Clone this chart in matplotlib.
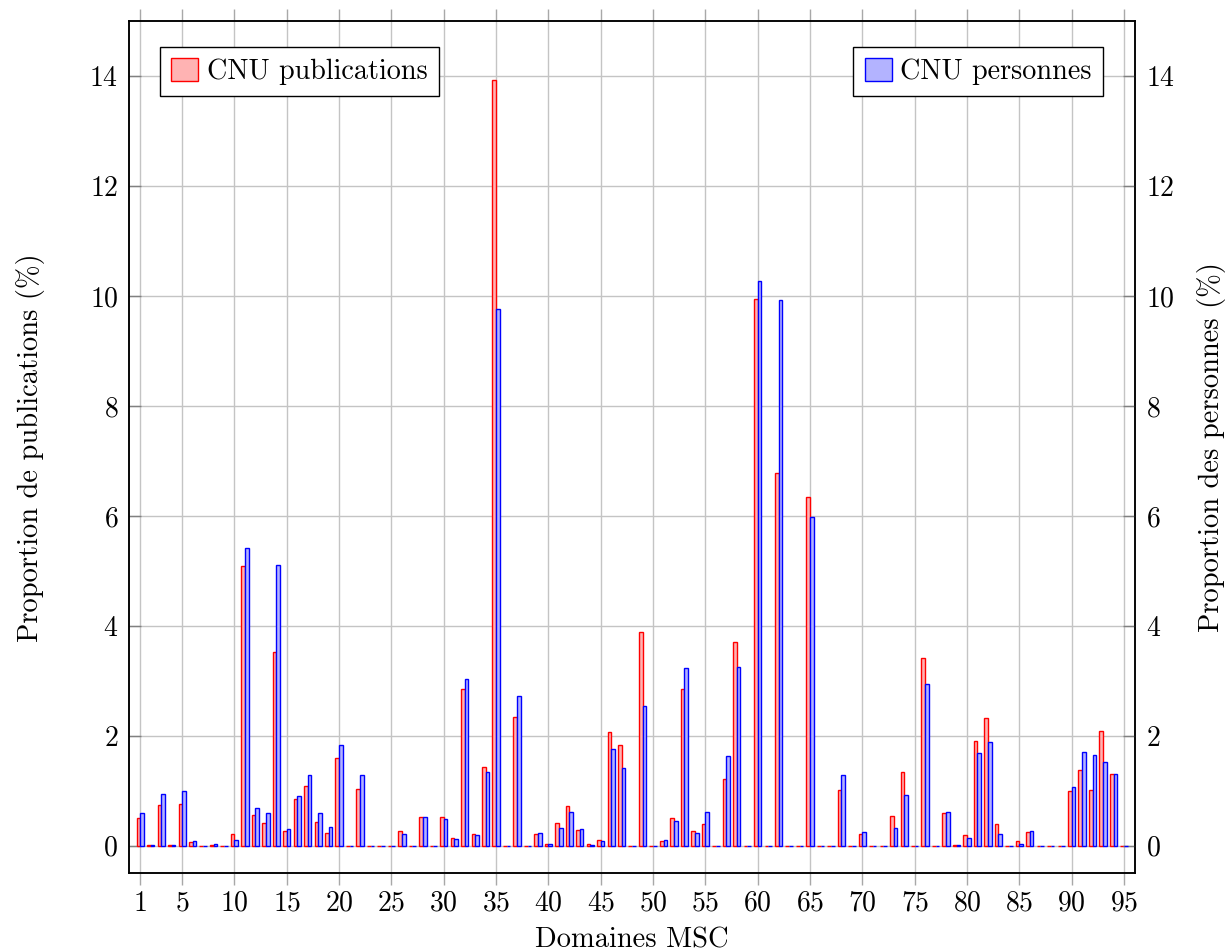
import matplotlib
matplotlib.use("Agg")
import matplotlib.pyplot as plt
from matplotlib.patches import Patch
import numpy as np

plt.rcParams['font.family'] = ['cmr10', 'DejaVu Serif']
plt.rcParams['mathtext.fontset'] = 'cm'
plt.rcParams['axes.formatter.use_mathtext'] = True

# Domaines MSC 1..95
domaines = list(range(1, 96))

publications = [
    0.50, 0.02, 0.75, 0.02, 0.76, 0.06, 0.00, 0.02, 0.00, 0.21,   # 1-10
    5.09, 0.56, 0.42, 3.52, 0.26, 0.85, 1.09, 0.43, 0.23, 1.60,   # 11-20
    0.00, 1.04, 0.00, 0.00, 0.00, 0.26, 0.00, 0.53, 0.00, 0.52,   # 21-30
    0.15, 2.85, 0.21, 1.44, 13.93, 0.00, 2.35, 0.00, 0.21, 0.03,  # 31-40
    0.41, 0.73, 0.28, 0.04, 0.10, 2.07, 1.83, 0.00, 3.89, 0.00,   # 41-50
    0.08, 0.50, 2.86, 0.27, 0.39, 0.00, 1.21, 3.71, 0.00, 9.95,   # 51-60
    0.00, 6.78, 0.00, 0.00, 6.35, 0.00, 0.00, 1.01, 0.00, 0.21,   # 61-70
    0.00, 0.00, 0.54, 1.35, 0.00, 3.42, 0.00, 0.60, 0.01, 0.20,   # 71-80
    1.91, 2.33, 0.40, 0.00, 0.08, 0.25, 0.00, 0.00, 0.00, 0.99,   # 81-90
    1.37, 1.02, 2.08, 1.30, 0.00,                                 # 91-95
]

personnes = [
    0.60, 0.02, 0.95, 0.02, 0.99, 0.08, 0.00, 0.04, 0.00, 0.10,   # 1-10
    5.42, 0.68, 0.59, 5.11, 0.30, 0.90, 1.28, 0.59, 0.35, 1.84,   # 11-20
    0.00, 1.28, 0.00, 0.00, 0.00, 0.21, 0.00, 0.52, 0.00, 0.48,   # 21-30
    0.13, 3.03, 0.19, 1.34, 9.76, 0.00, 2.72, 0.00, 0.24, 0.03,   # 31-40
    0.33, 0.62, 0.30, 0.02, 0.08, 1.77, 1.41, 0.00, 2.54, 0.00,   # 41-50
    0.10, 0.45, 3.24, 0.24, 0.61, 0.00, 1.64, 3.26, 0.00, 10.28,  # 51-60
    0.00, 9.93, 0.00, 0.00, 5.98, 0.00, 0.00, 1.28, 0.00, 0.25,   # 61-70
    0.00, 0.00, 0.33, 0.93, 0.00, 2.95, 0.00, 0.62, 0.01, 0.15,   # 71-80
    1.68, 1.89, 0.22, 0.00, 0.04, 0.26, 0.00, 0.00, 0.00, 1.07,   # 81-90
    1.70, 1.66, 1.53, 1.30, 0.00,                                 # 91-95
]

xticks = [1] + list(range(5, 96, 5))
yticks = list(range(0, 15, 2))

fig = plt.figure(figsize=(12.27, 9.52), dpi=100)
ax = fig.add_axes([0.1054, 0.0827, 0.925 - 0.1054, 0.9776 - 0.0827])
ax2 = ax.twinx()

x = np.array(domaines, dtype=float)
bw = 0.35
ax.bar(x - bw / 2, publications, width=bw, color='#ffb3b3', edgecolor='red',
       linewidth=1.0, zorder=3)
ax2.bar(x + bw / 2, personnes, width=bw, color='#b3b3ff', edgecolor='blue',
        linewidth=1.0, zorder=3)

for a in (ax, ax2):
    a.set_xlim(-0.05, 96.05)
    a.set_ylim(-0.5, 15.0)
    a.set_yticks(yticks)

ax.set_xticks(xticks)
ax.grid(True, color='#c4c4c4', linewidth=1.0, zorder=0)
ax.set_axisbelow(True)

TS = 20
ax.tick_params(axis='x', direction='out', top=True, length=8.5, width=1.0,
               color='#a8a8a8', labelsize=TS, pad=4)
ax.tick_params(axis='y', direction='in', length=8.5, width=1.0,
               color='#808080', labelsize=TS, pad=8)
ax2.tick_params(axis='y', direction='in', length=8.5, width=1.0,
                color='#808080', labelsize=TS, pad=8)

for a in (ax, ax2):
    for s in a.spines.values():
        s.set_linewidth(1.1)
        s.set_color('black')

LS = 20.5
ax.set_xlabel('Domaines MSC', fontsize=LS, labelpad=7)
ax.set_ylabel('Proportion de publications (%)', fontsize=LS, labelpad=32)
ax2.set_ylabel('Proportion des personnes (%)', fontsize=LS, labelpad=16,
               rotation=90)

FS = 20.3
leg1 = ax.legend(handles=[Patch(facecolor='#ffb3b3', edgecolor='red', label='CNU publications')],
                 loc='upper left', bbox_to_anchor=(0.0305, 0.97), borderaxespad=0,
                 fontsize=FS, fancybox=False, edgecolor='black', framealpha=1,
                 handlelength=0.95, handleheight=0.85, handletextpad=0.3,
                 borderpad=0.4)
leg1.get_frame().set_linewidth(1.0)
leg1.set_zorder(10)
leg2 = ax2.legend(handles=[Patch(facecolor='#b3b3ff', edgecolor='blue', label='CNU personnes')],
                  loc='upper right', bbox_to_anchor=(0.968, 0.97), borderaxespad=0,
                  fontsize=FS, fancybox=False, edgecolor='black', framealpha=1,
                  handlelength=0.95, handleheight=0.85, handletextpad=0.3,
                  borderpad=0.4)
leg2.get_frame().set_linewidth(1.0)
leg2.set_zorder(10)

fig.savefig('out.png', dpi=100)
